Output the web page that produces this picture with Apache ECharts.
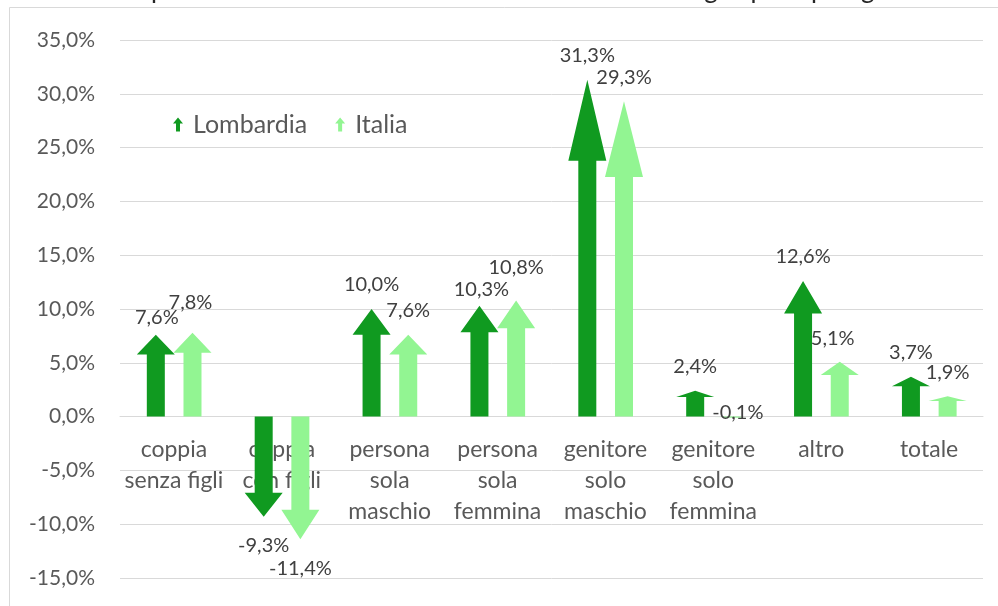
<!DOCTYPE html>
<html>
<head>
<meta charset="utf-8">
<script src="https://cdn.jsdelivr.net/npm/echarts@6/dist/echarts.min.js"></script>
<style>
  html, body { margin: 0; padding: 0; background: #fff; }
  #chart { width: 998px; height: 606px; }
</style>
</head>
<body>
<div id="chart"></div>
<script>
// Household types
const categories = [
  'coppia\nsenza figli',
  'coppia\ncon figli',
  'persona\nsola\nmaschio',
  'persona\nsola\nfemmina',
  'genitore\nsolo\nmaschio',
  'genitore\nsolo\nfemmina',
  'altro',
  'totale'
];

// Percentage change per household type
const lombardia = [7.6, -9.3, 10.0, 10.3, 31.3, 2.4, 12.6, 3.7];
const italia    = [7.8, -11.4, 7.6, 10.8, 29.3, -0.1, 5.1, 1.9];

// Value axis ticks
const yTicks = [-15, -10, -5, 0, 5, 10, 15, 20, 25, 30, 35];

const titleText = 'Variazione percentuale dal 2019 al 2030 del numero di famiglie per tipologia familiare';

const COLORS = { Lombardia: '#109a20', Italia: '#92f592' };
const FONT = 'Lato, "Open Sans", sans-serif';
const TEXT_GREY = '#595959';

// Arrow geometry (pixels), head length as a share of the arrow length
const HEAD_HALF = 19;
const SHAFT_HALF = 9;
const HEAD_RATIO = 0.24;

// Small label nudges [dx, dy] so neighbouring labels don't collide
const labelNudge = {
  Lombardia: { 0: [1, 7], 3: [2, 8] },
  Italia: { 0: [-2, -6], 3: [0, -9], 5: [6, -34], 6: [-7, 1] }
};

const fmt = v => v.toFixed(1).replace('.', ',') + '%';

function arrowRenderer(name, offsetFrac) {
  return function (params, api) {
    const cat = api.value(0);
    const val = api.value(1);
    const base = api.coord([cat, 0]);
    const tip = api.coord([cat, val]);
    const band = api.size([1, 0])[0];
    const x = base[0] + band * offsetFrac;
    const y0 = base[1];
    const yt = tip[1];
    const yb = yt + (y0 - yt) * HEAD_RATIO;
    const nudge = (labelNudge[name] || {})[params.dataIndex] || [0, 0];
    const ly = (val >= 0 ? yt - 24 : yt + 29) + nudge[1];
    return {
      type: 'group',
      children: [
        {
          type: 'polygon',
          shape: {
            points: [
              [x - SHAFT_HALF, y0], [x - SHAFT_HALF, yb], [x - HEAD_HALF, yb],
              [x, yt],
              [x + HEAD_HALF, yb], [x + SHAFT_HALF, yb], [x + SHAFT_HALF, y0]
            ]
          },
          style: { fill: COLORS[name] }
        },
        {
          type: 'text',
          x: x + nudge[0],
          y: ly,
          style: {
            text: fmt(val),
            fill: '#404040',
            font: '20px ' + FONT,
            align: 'center',
            verticalAlign: 'middle'
          }
        }
      ]
    };
  };
}

// Category names sit just under the zero line, like an axis crossing at 0
function categoryLabelRenderer(params, api) {
  const p = api.coord([api.value(0), 0]);
  return {
    type: 'text',
    x: p[0],
    y: p[1] + 17,
    style: {
      text: categories[params.dataIndex],
      fill: TEXT_GREY,
      font: '23px ' + FONT,
      lineHeight: 31,
      align: 'center',
      verticalAlign: 'top'
    }
  };
}

const arrowIcon = 'path://M3,14 L3,6 L0,6 L5,0 L10,6 L7,6 L7,14 Z';

const chart = echarts.init(document.getElementById('chart'), null, { renderer: 'canvas' });

chart.setOption({
  backgroundColor: '#fff',
  animation: false,
  textStyle: { fontFamily: FONT },
  graphic: [
    {
      type: 'rect',
      shape: { x: 9.5, y: 7.5, width: 1200, height: 800 },
      style: { fill: 'none', stroke: '#d9d9d9', lineWidth: 1 },
      silent: true
    },
    {
      type: 'text',
      x: 512,
      y: 3,
      style: {
        text: titleText,
        fill: '#262626',
        font: '26px ' + FONT,
        align: 'center',
        verticalAlign: 'bottom'
      },
      silent: true
    }
  ],
  legend: {
    left: 168,
    top: 107,
    itemWidth: 20,
    itemHeight: 14,
    itemGap: 28,
    textStyle: { color: TEXT_GREY, fontSize: 25, fontFamily: FONT },
    data: [
      { name: 'Lombardia', icon: arrowIcon },
      { name: 'Italia', icon: arrowIcon }
    ]
  },
  grid: { left: 120, right: 15, top: 40, bottom: 28, containLabel: false, outerBoundsMode: 'none' },
  xAxis: {
    type: 'category',
    data: categories,
    axisLine: { show: true, onZero: true, lineStyle: { color: '#d9d9d9' } },
    axisTick: { show: false },
    axisLabel: { show: false }
  },
  yAxis: {
    type: 'value',
    min: yTicks[0],
    max: yTicks[yTicks.length - 1],
    interval: 5,
    axisLine: { show: false },
    axisTick: { show: false },
    splitLine: { lineStyle: { color: '#d9d9d9', width: 1 } },
    axisLabel: {
      margin: 25,
      color: TEXT_GREY,
      fontSize: 21,
      fontFamily: FONT,
      formatter: v => fmt(v)
    }
  },
  series: [
    {
      name: 'Lombardia',
      type: 'custom',
      itemStyle: { color: COLORS.Lombardia },
      renderItem: arrowRenderer('Lombardia', -0.168),
      encode: { x: 0, y: 1 },
      data: lombardia.map((v, i) => [i, v]),
      z: 3
    },
    {
      name: 'Italia',
      type: 'custom',
      itemStyle: { color: COLORS.Italia },
      renderItem: arrowRenderer('Italia', 0.172),
      encode: { x: 0, y: 1 },
      data: italia.map((v, i) => [i, v]),
      z: 3
    },
    {
      name: 'categorie',
      type: 'custom',
      silent: true,
      renderItem: categoryLabelRenderer,
      encode: { x: 0, y: 1 },
      data: categories.map((c, i) => [i, 0]),
      z: 2
    }
  ]
});
</script>
</body>
</html>
